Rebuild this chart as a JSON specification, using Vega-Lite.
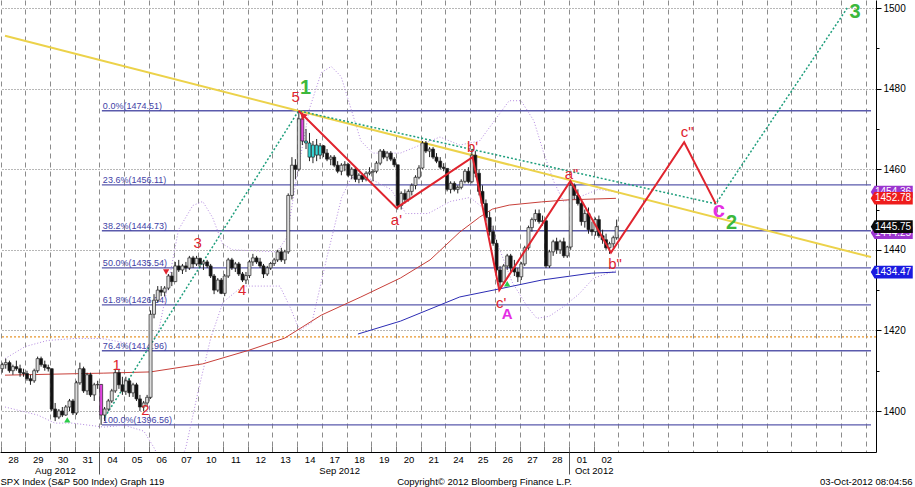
{
  "$schema": "https://vega.github.io/schema/vega-lite/v6.json",
  "width": 876,
  "height": 452,
  "autosize": {"type": "none"},
  "padding": {"left": 0, "top": 0, "right": 39, "bottom": 35},
  "background": "white",
  "view": {"stroke": null},
  "config": {"font": "Liberation Sans", "axis": {"labelFont": "Liberation Sans", "titleFont": "Liberation Sans"}},
  "resolve": {"scale": {"x": "shared", "y": "shared"}, "axis": {"x": "independent"}},
  "datasets": {
    "bars": [
      {"t":-0.43,"o":1410.5,"h":1412,"l":1409.5,"c":1411.5},
      {"t":-0.29,"o":1411.5,"h":1413,"l":1410.5,"c":1412},
      {"t":-0.14,"o":1412,"h":1412.5,"l":1409.5,"c":1410},
      {"t":0,"o":1410,"h":1411.5,"l":1409,"c":1411},
      {"t":0.14,"o":1411,"h":1412.5,"l":1410,"c":1410.5},
      {"t":0.29,"o":1410.5,"h":1411.5,"l":1408.5,"c":1409.5},
      {"t":0.43,"o":1409.5,"h":1410.5,"l":1408.5,"c":1409.3},
      {"t":0.57,"o":1409.3,"h":1410,"l":1407.5,"c":1408},
      {"t":0.71,"o":1408,"h":1409,"l":1406.5,"c":1407.5},
      {"t":0.86,"o":1407.5,"h":1410.5,"l":1407,"c":1410},
      {"t":1,"o":1410,"h":1413.5,"l":1409.5,"c":1413},
      {"t":1.14,"o":1413,"h":1413.5,"l":1411,"c":1411.5},
      {"t":1.29,"o":1411.5,"h":1412.5,"l":1410,"c":1410.8},
      {"t":1.43,"o":1410.8,"h":1411.5,"l":1409.8,"c":1410.5},
      {"t":1.57,"o":1410.5,"h":1410.5,"l":1400,"c":1400.5},
      {"t":1.71,"o":1400.5,"h":1402,"l":1397.5,"c":1398.5},
      {"t":1.86,"o":1398.5,"h":1400.5,"l":1398,"c":1400},
      {"t":2,"o":1400,"h":1401,"l":1398.5,"c":1399},
      {"t":2.14,"o":1399,"h":1401.5,"l":1398.8,"c":1401},
      {"t":2.29,"o":1401,"h":1403,"l":1400,"c":1402.5},
      {"t":2.43,"o":1402.5,"h":1403,"l":1399,"c":1399.5},
      {"t":2.57,"o":1399.5,"h":1407.5,"l":1399,"c":1407},
      {"t":2.71,"o":1407,"h":1412,"l":1406.5,"c":1410.5},
      {"t":2.86,"o":1410.5,"h":1411,"l":1404.5,"c":1405},
      {"t":3,"o":1405,"h":1409.5,"l":1404,"c":1409},
      {"t":3.14,"o":1409,"h":1409.5,"l":1403.5,"c":1404},
      {"t":3.29,"o":1404,"h":1407,"l":1402.5,"c":1406.5},
      {"t":3.43,"o":1406.5,"h":1407.5,"l":1405.5,"c":1406.6},
      {"t":3.57,"o":1406.6,"h":1406.6,"l":1396.56,"c":1399,"f":"m"},
      {"t":3.71,"o":1399,"h":1401,"l":1397.5,"c":1400.5},
      {"t":3.86,"o":1400.5,"h":1403,"l":1400,"c":1402.5},
      {"t":4,"o":1402.5,"h":1405.5,"l":1402,"c":1405},
      {"t":4.14,"o":1405,"h":1410.5,"l":1404.5,"c":1409.5},
      {"t":4.29,"o":1409.5,"h":1410.5,"l":1405.5,"c":1406.5},
      {"t":4.43,"o":1406.5,"h":1408.5,"l":1404,"c":1404.9},
      {"t":4.57,"o":1404.9,"h":1408.5,"l":1404,"c":1407.5},
      {"t":4.71,"o":1407.5,"h":1408,"l":1403.5,"c":1404.5},
      {"t":4.86,"o":1404.5,"h":1407,"l":1403.5,"c":1406.5},
      {"t":5,"o":1406.5,"h":1407,"l":1402.5,"c":1403},
      {"t":5.14,"o":1403,"h":1404,"l":1400,"c":1401},
      {"t":5.29,"o":1401,"h":1402.5,"l":1400,"c":1402},
      {"t":5.43,"o":1402,"h":1404,"l":1401,"c":1403.4},
      {"t":5.57,"o":1403.4,"h":1425,"l":1403,"c":1424},
      {"t":5.71,"o":1424,"h":1429,"l":1423,"c":1427.5},
      {"t":5.86,"o":1427.5,"h":1431,"l":1427,"c":1430},
      {"t":6,"o":1430,"h":1431,"l":1428.5,"c":1429.5},
      {"t":6.14,"o":1429.5,"h":1431,"l":1428.5,"c":1430.5},
      {"t":6.29,"o":1430.5,"h":1434,"l":1430,"c":1433.5},
      {"t":6.43,"o":1433.5,"h":1434.5,"l":1431,"c":1432.1},
      {"t":6.57,"o":1432.1,"h":1437,"l":1432,"c":1436},
      {"t":6.71,"o":1436,"h":1437.5,"l":1434.5,"c":1435},
      {"t":6.86,"o":1435,"h":1436.5,"l":1434,"c":1436},
      {"t":7,"o":1436,"h":1437,"l":1434.5,"c":1435.5},
      {"t":7.14,"o":1435.5,"h":1438.5,"l":1435,"c":1438},
      {"t":7.29,"o":1438,"h":1438.5,"l":1435.5,"c":1436.5},
      {"t":7.43,"o":1436.5,"h":1438.5,"l":1436,"c":1437.9},
      {"t":7.57,"o":1437.9,"h":1438,"l":1435.5,"c":1436.5},
      {"t":7.71,"o":1436.5,"h":1437.5,"l":1435,"c":1437},
      {"t":7.86,"o":1437,"h":1437.5,"l":1435.5,"c":1436},
      {"t":8,"o":1436,"h":1436.5,"l":1433,"c":1433.5},
      {"t":8.14,"o":1433.5,"h":1434,"l":1429,"c":1430},
      {"t":8.29,"o":1430,"h":1433,"l":1429.5,"c":1432.5},
      {"t":8.43,"o":1432.5,"h":1433,"l":1429,"c":1429.2},
      {"t":8.57,"o":1429.2,"h":1434,"l":1428.5,"c":1433.5},
      {"t":8.71,"o":1433.5,"h":1438,"l":1433,"c":1437.5},
      {"t":8.86,"o":1437.5,"h":1438,"l":1435,"c":1435.5},
      {"t":9,"o":1435.5,"h":1437,"l":1434.5,"c":1436.5},
      {"t":9.14,"o":1436.5,"h":1437,"l":1433.5,"c":1434},
      {"t":9.29,"o":1434,"h":1434.5,"l":1432,"c":1432.5},
      {"t":9.43,"o":1432.5,"h":1434.5,"l":1431.5,"c":1433.6},
      {"t":9.57,"o":1433.6,"h":1437.5,"l":1433,"c":1437},
      {"t":9.71,"o":1437,"h":1439,"l":1436,"c":1438},
      {"t":9.86,"o":1438,"h":1438.5,"l":1436.5,"c":1437},
      {"t":10,"o":1437,"h":1438,"l":1435.5,"c":1436},
      {"t":10.14,"o":1436,"h":1436.5,"l":1433,"c":1434},
      {"t":10.29,"o":1434,"h":1436,"l":1433.5,"c":1435.5},
      {"t":10.43,"o":1435.5,"h":1437,"l":1435,"c":1436.6},
      {"t":10.57,"o":1436.6,"h":1438,"l":1436,"c":1437.5},
      {"t":10.71,"o":1437.5,"h":1440,"l":1437,"c":1439.5},
      {"t":10.86,"o":1439.5,"h":1440.5,"l":1437,"c":1437.5},
      {"t":11,"o":1437.5,"h":1440,"l":1436.5,"c":1439.5},
      {"t":11.14,"o":1439.5,"h":1454,"l":1439,"c":1453.5},
      {"t":11.29,"o":1453.5,"h":1463,"l":1452.5,"c":1461},
      {"t":11.43,"o":1461,"h":1462.5,"l":1457.5,"c":1459.99},
      {"t":11.57,"o":1460,"h":1474.51,"l":1459.5,"c":1472.5},
      {"t":11.71,"o":1472.5,"h":1474,"l":1466,"c":1467,"f":"m"},
      {"t":11.86,"o":1467,"h":1470,"l":1465,"c":1466.5,"f":"c"},
      {"t":12,"o":1466.5,"h":1469,"l":1462,"c":1463,"f":"c"},
      {"t":12.14,"o":1463,"h":1467,"l":1461.5,"c":1466,"f":"c"},
      {"t":12.29,"o":1466,"h":1467.5,"l":1462,"c":1463.5,"f":"c"},
      {"t":12.43,"o":1463.5,"h":1466.5,"l":1462.5,"c":1465.8,"f":"c"},
      {"t":12.57,"o":1465.8,"h":1466,"l":1463,"c":1464},
      {"t":12.71,"o":1464,"h":1465,"l":1462,"c":1462.5},
      {"t":12.86,"o":1462.5,"h":1463.5,"l":1461,"c":1463},
      {"t":13,"o":1463,"h":1463.5,"l":1460.5,"c":1461},
      {"t":13.14,"o":1461,"h":1462,"l":1459,"c":1459.5},
      {"t":13.29,"o":1459.5,"h":1461.5,"l":1458.5,"c":1461},
      {"t":13.43,"o":1461,"h":1462,"l":1459.5,"c":1461.2},
      {"t":13.57,"o":1461.2,"h":1461.5,"l":1458,"c":1458.5},
      {"t":13.71,"o":1458.5,"h":1460.5,"l":1457.5,"c":1460},
      {"t":13.86,"o":1460,"h":1460.5,"l":1456.8,"c":1457.5},
      {"t":14,"o":1457.5,"h":1459,"l":1456.5,"c":1458.5},
      {"t":14.14,"o":1458.5,"h":1459,"l":1456.8,"c":1457.5},
      {"t":14.29,"o":1457.5,"h":1459.5,"l":1457,"c":1459},
      {"t":14.43,"o":1459,"h":1460.5,"l":1458.5,"c":1459.3},
      {"t":14.57,"o":1459.3,"h":1460,"l":1457,"c":1459.5},
      {"t":14.71,"o":1459.5,"h":1462,"l":1459,"c":1461.5},
      {"t":14.86,"o":1461.5,"h":1465,"l":1461,"c":1464.5},
      {"t":15,"o":1464.5,"h":1465,"l":1462.5,"c":1463},
      {"t":15.14,"o":1463,"h":1464.5,"l":1462,"c":1464},
      {"t":15.29,"o":1464,"h":1464.5,"l":1462,"c":1462.5},
      {"t":15.43,"o":1462.5,"h":1463,"l":1460.5,"c":1461.1},
      {"t":15.57,"o":1461.1,"h":1461.1,"l":1450,"c":1451},
      {"t":15.71,"o":1451,"h":1454.5,"l":1450,"c":1454},
      {"t":15.86,"o":1454,"h":1455,"l":1451.5,"c":1452.5},
      {"t":16,"o":1452.5,"h":1455,"l":1452,"c":1454.5},
      {"t":16.14,"o":1454.5,"h":1456.5,"l":1453.5,"c":1456},
      {"t":16.29,"o":1456,"h":1458.5,"l":1455,"c":1458},
      {"t":16.43,"o":1458,"h":1461,"l":1457.5,"c":1460.3},
      {"t":16.57,"o":1460.3,"h":1467,"l":1460,"c":1466.5},
      {"t":16.71,"o":1466.5,"h":1467,"l":1464,"c":1464.5},
      {"t":16.86,"o":1464.5,"h":1465.5,"l":1463,"c":1465},
      {"t":17,"o":1465,"h":1465.5,"l":1462.5,"c":1463},
      {"t":17.14,"o":1463,"h":1464,"l":1461.5,"c":1462},
      {"t":17.29,"o":1462,"h":1463,"l":1460,"c":1460.5},
      {"t":17.43,"o":1460.5,"h":1461.5,"l":1459.5,"c":1460.2},
      {"t":17.57,"o":1460.2,"h":1460.2,"l":1454.5,"c":1455},
      {"t":17.71,"o":1455,"h":1457,"l":1454,"c":1456.5},
      {"t":17.86,"o":1456.5,"h":1457,"l":1454.5,"c":1455},
      {"t":18,"o":1455,"h":1456,"l":1454,"c":1455.5},
      {"t":18.14,"o":1455.5,"h":1457.5,"l":1455,"c":1457},
      {"t":18.29,"o":1457,"h":1460,"l":1456.5,"c":1459.5},
      {"t":18.43,"o":1459.5,"h":1460.5,"l":1456.5,"c":1456.9},
      {"t":18.57,"o":1456.9,"h":1465,"l":1456.5,"c":1463.5},
      {"t":18.71,"o":1463.5,"h":1464.5,"l":1458,"c":1459},
      {"t":18.86,"o":1459,"h":1460,"l":1453.5,"c":1454.5},
      {"t":19,"o":1454.5,"h":1456,"l":1450.5,"c":1451.5},
      {"t":19.14,"o":1451.5,"h":1452.5,"l":1447,"c":1448},
      {"t":19.29,"o":1448,"h":1449.5,"l":1443.5,"c":1444.5},
      {"t":19.43,"o":1444.5,"h":1446,"l":1441,"c":1441.6},
      {"t":19.57,"o":1441.6,"h":1442.5,"l":1434,"c":1435},
      {"t":19.71,"o":1435,"h":1436,"l":1430.5,"c":1432},
      {"t":19.86,"o":1432,"h":1436.5,"l":1431.5,"c":1436},
      {"t":20,"o":1436,"h":1439,"l":1435,"c":1438.5},
      {"t":20.14,"o":1438.5,"h":1439,"l":1434.5,"c":1435.5},
      {"t":20.29,"o":1435.5,"h":1437.5,"l":1433.5,"c":1434.5},
      {"t":20.43,"o":1434.5,"h":1435.5,"l":1432,"c":1433.3},
      {"t":20.57,"o":1433.3,"h":1437,"l":1432.5,"c":1436.5},
      {"t":20.71,"o":1436.5,"h":1441,"l":1436,"c":1440.5},
      {"t":20.86,"o":1440.5,"h":1446,"l":1440,"c":1445.5},
      {"t":21,"o":1445.5,"h":1448,"l":1444.5,"c":1447.5},
      {"t":21.14,"o":1447.5,"h":1450,"l":1447,"c":1449},
      {"t":21.29,"o":1449,"h":1450,"l":1446.5,"c":1447},
      {"t":21.43,"o":1447,"h":1448.5,"l":1446,"c":1447.2},
      {"t":21.57,"o":1447.2,"h":1447.5,"l":1435.5,"c":1436},
      {"t":21.71,"o":1436,"h":1440,"l":1435.5,"c":1439.5},
      {"t":21.86,"o":1439.5,"h":1442.5,"l":1438.5,"c":1442},
      {"t":22,"o":1442,"h":1443,"l":1439,"c":1440},
      {"t":22.14,"o":1440,"h":1442.5,"l":1439,"c":1442},
      {"t":22.29,"o":1442,"h":1443,"l":1438,"c":1438.5},
      {"t":22.43,"o":1438.5,"h":1441,"l":1438,"c":1440.7},
      {"t":22.57,"o":1440.7,"h":1457,"l":1440,"c":1456},
      {"t":22.71,"o":1456,"h":1456.5,"l":1452.5,"c":1453.5},
      {"t":22.86,"o":1453.5,"h":1455,"l":1451,"c":1451.5},
      {"t":23,"o":1451.5,"h":1452.5,"l":1446,"c":1447},
      {"t":23.14,"o":1447,"h":1450,"l":1445.5,"c":1449},
      {"t":23.29,"o":1449,"h":1450.5,"l":1444,"c":1445},
      {"t":23.43,"o":1445,"h":1447,"l":1443.5,"c":1444.5},
      {"t":23.57,"o":1444.5,"h":1448,"l":1443.5,"c":1447.5},
      {"t":23.71,"o":1447.5,"h":1448.5,"l":1443,"c":1443.5},
      {"t":23.86,"o":1443.5,"h":1445,"l":1441.5,"c":1442.5},
      {"t":24,"o":1442.5,"h":1444,"l":1440,"c":1440.5},
      {"t":24.14,"o":1440.5,"h":1442,"l":1439,"c":1441.5},
      {"t":24.29,"o":1441.5,"h":1443.5,"l":1440.5,"c":1443},
      {"t":24.43,"o":1443,"h":1447.5,"l":1442.5,"c":1445.75}
    ],
    "fib": [
      {"lab":"0.0%(1474.51)","v":1474.51},
      {"lab":"23.6%(1456.11)","v":1456.11},
      {"lab":"38.2%(1444.73)","v":1444.73},
      {"lab":"50.0%(1435.54)","v":1435.54},
      {"lab":"61.8%(1426.34)","v":1426.34},
      {"lab":"76.4%(1414.96)","v":1414.96},
      {"lab":"100.0%(1396.56)","v":1396.56}
    ],
    "zigzag": [
      {"t":11.56,"v":1474.51},
      {"t":15.52,"v":1450.4},
      {"t":18.6,"v":1463.0},
      {"t":19.68,"v":1430.0},
      {"t":22.56,"v":1457.1},
      {"t":24.2,"v":1439.3},
      {"t":27.16,"v":1466.7},
      {"t":28.44,"v":1451.4}
    ],
    "teal": [
      {"t":3.72,"v":1398.5},
      {"t":11.56,"v":1474.51},
      {"t":28.44,"v":1451.4},
      {"t":33.76,"v":1500.0}
    ],
    "yellow": [
      {"t":-0.32,"v":1493.1},
      {"t":34.72,"v":1438.2}
    ],
    "ma100": [
      {"t":-0.32,"v":1408.9},{"t":3.68,"v":1409.4},{"t":5.56,"v":1409.7},{"t":7.68,"v":1411.7},
      {"t":9.56,"v":1415.1},{"t":11.0,"v":1418.1},{"t":12.48,"v":1423.8},{"t":14.08,"v":1428.3},
      {"t":15.68,"v":1433.0},{"t":16.88,"v":1437.5},{"t":18.08,"v":1444.4},{"t":18.88,"v":1448.1},
      {"t":19.4,"v":1450.1},{"t":20.08,"v":1451.1},{"t":21.4,"v":1451.9},{"t":22.48,"v":1452.4},
      {"t":24.4,"v":1452.78}
    ],
    "ma200": [
      {"t":13.96,"v":1419.1},{"t":15.68,"v":1422.3},{"t":17.0,"v":1425.6},{"t":18.08,"v":1428.3},
      {"t":19.68,"v":1430.3},{"t":21.4,"v":1432.5},{"t":23.4,"v":1434.2},{"t":24.4,"v":1434.47}
    ],
    "bands": [
      {"b":"u","t":-0.32,"v":1413},{"b":"u","t":0.5,"v":1416},{"b":"u","t":1.4,"v":1417.5},{"b":"u","t":2.5,"v":1418},
      {"b":"u","t":3.6,"v":1418},{"b":"u","t":4.9,"v":1416.5},{"b":"u","t":5.5,"v":1415},{"b":"u","t":5.9,"v":1420},
      {"b":"u","t":6.3,"v":1432},{"b":"u","t":6.7,"v":1445},{"b":"u","t":7.28,"v":1451},{"b":"u","t":7.68,"v":1452},
      {"b":"u","t":8.08,"v":1448},{"b":"u","t":8.48,"v":1441.5},{"b":"u","t":8.88,"v":1440},{"b":"u","t":10.68,"v":1439.5},
      {"b":"u","t":11.08,"v":1443},{"b":"u","t":11.48,"v":1458},{"b":"u","t":12.0,"v":1475},{"b":"u","t":12.48,"v":1484},
      {"b":"u","t":12.88,"v":1485.5},{"b":"u","t":13.28,"v":1483},{"b":"u","t":13.68,"v":1475},{"b":"u","t":14.08,"v":1467},
      {"b":"u","t":14.56,"v":1464},{"b":"u","t":15.68,"v":1464},{"b":"u","t":16.48,"v":1466},{"b":"u","t":17.28,"v":1468},
      {"b":"u","t":18.08,"v":1466},{"b":"u","t":18.88,"v":1467},{"b":"u","t":19.48,"v":1472},{"b":"u","t":20.08,"v":1477},
      {"b":"u","t":20.56,"v":1477},{"b":"u","t":21.08,"v":1472},{"b":"u","t":21.48,"v":1464},{"b":"u","t":21.88,"v":1457},
      {"b":"u","t":22.28,"v":1452},{"b":"u","t":22.88,"v":1453},{"b":"u","t":23.68,"v":1455},{"b":"u","t":24.4,"v":1454.36},
      {"b":"l","t":-0.32,"v":1401},{"b":"l","t":1.0,"v":1399},{"b":"l","t":1.7,"v":1397},{"b":"l","t":2.4,"v":1397},
      {"b":"l","t":3.7,"v":1396},{"b":"l","t":4.5,"v":1396.5},{"b":"l","t":5.3,"v":1395},{"b":"l","t":5.7,"v":1391},
      {"b":"l","t":6.1,"v":1386},{"b":"l","t":6.7,"v":1386},{"b":"l","t":7.0,"v":1391},{"b":"l","t":7.5,"v":1405},
      {"b":"l","t":8.0,"v":1418},{"b":"l","t":8.5,"v":1427},{"b":"l","t":9.3,"v":1431},{"b":"l","t":10.8,"v":1431},
      {"b":"l","t":11.2,"v":1426},{"b":"l","t":11.6,"v":1420},{"b":"l","t":12.1,"v":1422},{"b":"l","t":12.7,"v":1438},
      {"b":"l","t":13.3,"v":1453},{"b":"l","t":13.7,"v":1458},{"b":"l","t":14.5,"v":1457.5},{"b":"l","t":15.3,"v":1455},
      {"b":"l","t":15.9,"v":1449},{"b":"l","t":16.8,"v":1449},{"b":"l","t":17.7,"v":1452},{"b":"l","t":18.5,"v":1453},
      {"b":"l","t":19.1,"v":1450},{"b":"l","t":19.7,"v":1440},{"b":"l","t":20.2,"v":1432},{"b":"l","t":20.8,"v":1426},
      {"b":"l","t":21.2,"v":1423},{"b":"l","t":21.7,"v":1423.5},{"b":"l","t":22.3,"v":1426},{"b":"l","t":22.9,"v":1429},
      {"b":"l","t":23.5,"v":1433},{"b":"l","t":24.4,"v":1434.8}
    ],
    "labels": [
      {"t":11.44,"v":1477.9,"txt":"5","g":"r"},
      {"t":7.48,"v":1441.7,"txt":"3","g":"r"},
      {"t":9.28,"v":1430.0,"txt":"4","g":"r"},
      {"t":4.2,"v":1411.4,"txt":"1","g":"r"},
      {"t":5.36,"v":1400.2,"txt":"2","g":"r"},
      {"t":15.52,"v":1447.4,"txt":"a'","g":"r"},
      {"t":18.6,"v":1465.5,"txt":"b'","g":"r"},
      {"t":19.76,"v":1426.8,"txt":"c'","g":"r"},
      {"t":22.6,"v":1458.8,"txt":"a\"","g":"r"},
      {"t":24.36,"v":1436.5,"txt":"b\"","g":"r"},
      {"t":27.28,"v":1469.2,"txt":"c\"","g":"r"},
      {"t":11.84,"v":1480.1,"txt":"1","g":"g"},
      {"t":29.08,"v":1446.6,"txt":"2","g":"g"},
      {"t":34.08,"v":1499.0,"txt":"3","g":"g"},
      {"t":20.0,"v":1424.0,"txt":"A","g":"m"},
      {"t":28.56,"v":1448.2,"txt":"c","g":"mc"}
    ],
    "upMarks": [
      {"t":2.2,"v":1397.8},
      {"t":20.0,"v":1431.6}
    ],
    "downMarks": [
      {"t":6.2,"v":1434.5}
    ],
    "arrow": [
      {"t":11.72,"v":1473.4}
    ],
    "tags": [
      {"v":1454.36,"lab":"1454.36","s":"BB upper","grp":"bb"},
      {"v":1444.25,"lab":"1444.25","s":"BB mid","grp":"bb"},
      {"v":1452.78,"lab":"1452.78","s":"MA 100","grp":"main"},
      {"v":1445.75,"lab":"1445.75","s":"Last","grp":"main"},
      {"v":1434.47,"lab":"1434.47","s":"MA 200","grp":"main"}
    ],
    "orange": [{"v":1418.4}]
  },
  "layer": [
    {
      "data": {"name": "orange"},
      "mark": {"type": "rule", "color": "#e8962e", "strokeDash": [2, 2], "strokeWidth": 1.2},
      "encoding": {
        "y": {"field": "v", "type": "quantitative"}
      }
    },
    {
      "data": {"name": "fib"},
      "mark": {"type": "rule", "color": "#5a5aac", "strokeWidth": 1.3},
      "encoding": {
        "x": {"datum": 3.6, "type": "quantitative", "axis": null},
        "x2": {"datum": 34.72},
        "y": {"field": "v", "type": "quantitative"}
      }
    },
    {
      "data": {"name": "fib"},
      "mark": {"type": "text", "align": "left", "baseline": "alphabetic", "dy": -2, "fontSize": 9, "color": "#3f3fa6", "font": "Liberation Sans"},
      "encoding": {
        "x": {"datum": 3.64, "type": "quantitative", "axis": null},
        "y": {"field": "v", "type": "quantitative"},
        "text": {"field": "lab"}
      }
    },
    {
      "data": {"name": "bands"},
      "mark": {"type": "line", "color": "#b48ae0", "strokeDash": [1, 2], "strokeWidth": 1, "clip": true},
      "encoding": {
        "x": {"field": "t", "type": "quantitative", "axis": null},
        "y": {"field": "v", "type": "quantitative"},
        "detail": {"field": "b"}
      }
    },
    {
      "data": {"name": "ma100"},
      "mark": {"type": "line", "color": "#c8403a", "strokeWidth": 1},
      "encoding": {
        "x": {"field": "t", "type": "quantitative", "axis": null},
        "y": {"field": "v", "type": "quantitative"}
      }
    },
    {
      "data": {"name": "ma200"},
      "mark": {"type": "line", "color": "#2c2cb4", "strokeWidth": 1},
      "encoding": {
        "x": {"field": "t", "type": "quantitative", "axis": null},
        "y": {"field": "v", "type": "quantitative"}
      }
    },
    {
      "data": {"name": "yellow"},
      "mark": {"type": "line", "color": "#ecd24a", "strokeWidth": 2},
      "encoding": {
        "x": {"field": "t", "type": "quantitative",
          "axis": {"orient": "bottom", "values": [0], "labels": false, "ticks": false, "domain": false, "grid": false,
            "title": "03-Oct-2012 08:04:56", "titleX": 912, "titleY": 32, "titleAlign": "right", "titleAnchor": "end",
            "titleBaseline": "alphabetic", "titleFontSize": 9.5, "titleFontWeight": "normal", "titleColor": "#000"}},
        "y": {"field": "v", "type": "quantitative"}
      }
    },
    {
      "data": {"name": "teal"},
      "mark": {"type": "line", "color": "#1e9e7c", "strokeDash": [2, 2], "strokeWidth": 1.5},
      "encoding": {
        "x": {"field": "t", "type": "quantitative", "axis": null},
        "y": {"field": "v", "type": "quantitative"}
      }
    },
    {
      "data": {"name": "bars"},
      "mark": {"type": "rule", "color": "#222", "strokeWidth": 1},
      "encoding": {
        "x": {"field": "t", "type": "quantitative",
          "scale": {"domain": [-0.32, 34.72], "nice": false, "zero": false},
          "axis": {
            "orient": "bottom",
            "values": [-0.5,0.5,1.5,2.5,3.5,4.5,5.5,6.5,7.5,8.5,9.5,10.5,11.5,12.5,13.5,14.5,15.5,16.5,17.5,18.5,19.5,20.5,21.5,22.5,23.5,24.5,25.5,26.5,27.5,28.5,29.5,30.5,31.5,32.5,33.5,34.5],
            "labelExpr": "datum.value < 24 ? ['28','29','30','31','04','05','06','07','10','11','12','13','14','17','18','19','20','21','24','25','26','27','28','01','02'][round(datum.value + 0.5)] : ''",
            "labelOffset": 12.5,
            "labelPadding": 8,
            "labelFontSize": 9.5,
            "labelColor": "#000",
            "labelFlush": false,
            "labelOverlap": false,
            "labelBound": false,
            "tickSize": -6,
            "tickColor": "#777",
            "tickOpacity": {"condition": {"test": "datum.value < 24", "value": 1}, "value": 0},
            "grid": true,
            "gridColor": "#8c8c8c",
            "gridDash": [5, 4],
            "gridWidth": 1,
            "domain": true,
            "domainColor": "#000",
            "title": "SPX Index (S&P 500 Index) Graph 119",
            "titleX": 0, "titleY": 32, "titleAlign": "left", "titleAnchor": "start",
            "titleBaseline": "alphabetic", "titleFontSize": 9.5, "titleFontWeight": "normal", "titleColor": "#000"
          }},
        "y": {"field": "l", "type": "quantitative",
          "scale": {"domain": [1389.83, 1501.99], "nice": false, "zero": false},
          "axis": {
            "orient": "right",
            "values": [1400,1410,1420,1430,1440,1450,1460,1470,1480,1490,1500],
            "labelExpr": "datum.value % 20 == 0 ? '' + datum.value : ''",
            "labelFontSize": 10,
            "labelColor": "#000",
            "labelPadding": 2,
            "labelFlush": false,
            "labelOverlap": false,
            "tickColor": "#000",
            "tickSize": {"condition": {"test": "datum.value % 20 == 0", "value": 5}, "value": 3},
            "domain": true,
            "domainColor": "#000",
            "grid": true,
            "gridColor": {"condition": {"test": "datum.value % 20 == 0", "value": "#6e6e6e"}, "value": "rgba(0,0,0,0)"},
            "gridDash": [1, 2],
            "gridWidth": 1,
            "title": null
          }},
        "y2": {"field": "h"}
      }
    },
    {
      "data": {"name": "bars"},
      "mark": {"type": "bar", "size": 3, "stroke": "#222", "strokeWidth": 0.7},
      "encoding": {
        "x": {"field": "t", "type": "quantitative", "axis": null},
        "y": {"field": "o", "type": "quantitative"},
        "y2": {"field": "c"},
        "fill": {
          "condition": [
            {"test": "datum.f == 'm'", "value": "#e046e0"},
            {"test": "datum.f == 'c'", "value": "#36d8d8"},
            {"test": "datum.c >= datum.o", "value": "#dcdcdc"}
          ],
          "value": "#111111"
        }
      }
    },
    {
      "data": {"name": "zigzag"},
      "mark": {"type": "line", "color": "#e0242e", "strokeWidth": 2},
      "encoding": {
        "x": {"field": "t", "type": "quantitative",
          "axis": {
            "orient": "bottom",
            "values": [1.7, 3.5, 13.2, 22.5, 23.5],
            "labelExpr": "datum.value == 1.7 ? 'Aug 2012' : datum.value == 13.2 ? 'Sep 2012' : datum.value == 23.5 ? 'Oct 2012' : ''",
            "labelFontSize": 9.5,
            "labelColor": "#000",
            "labelPadding": -9,
            "labelFlush": false,
            "labelOverlap": false,
            "labelBound": false,
            "tickSize": 22,
            "tickColor": "#555",
            "tickOpacity": {"condition": {"test": "datum.value == 3.5 || datum.value == 22.5", "value": 1}, "value": 0},
            "domain": false,
            "grid": false,
            "title": "Copyright© 2012 Bloomberg Finance L.P.",
            "titleX": 484, "titleY": 32, "titleAlign": "center", "titleAnchor": "middle",
            "titleBaseline": "alphabetic", "titleFontSize": 9.5, "titleFontWeight": "normal", "titleColor": "#000"
          }},
        "y": {"field": "v", "type": "quantitative"}
      }
    },
    {
      "data": {"name": "arrow"},
      "mark": {"type": "point", "shape": "triangle-up", "filled": true, "color": "#e0242e", "size": 60, "angle": -45, "opacity": 1},
      "encoding": {
        "x": {"field": "t", "type": "quantitative", "axis": null},
        "y": {"field": "v", "type": "quantitative"}
      }
    },
    {
      "data": {"name": "upMarks"},
      "mark": {"type": "point", "shape": "triangle-up", "filled": true, "color": "#2ccc4a", "size": 40, "opacity": 1},
      "encoding": {
        "x": {"field": "t", "type": "quantitative", "axis": null},
        "y": {"field": "v", "type": "quantitative"}
      }
    },
    {
      "data": {"name": "downMarks"},
      "mark": {"type": "point", "shape": "triangle-down", "filled": true, "color": "#e0242e", "size": 40, "opacity": 1},
      "encoding": {
        "x": {"field": "t", "type": "quantitative", "axis": null},
        "y": {"field": "v", "type": "quantitative"}
      }
    },
    {
      "data": {"name": "labels"},
      "transform": [{"filter": "datum.g == 'r'"}],
      "mark": {"type": "text", "fontSize": 15, "color": "#e0242e", "align": "center", "baseline": "middle", "font": "Liberation Sans"},
      "encoding": {
        "x": {"field": "t", "type": "quantitative", "axis": null},
        "y": {"field": "v", "type": "quantitative"},
        "text": {"field": "txt"}
      }
    },
    {
      "data": {"name": "labels"},
      "transform": [{"filter": "datum.g == 'g'"}],
      "mark": {"type": "text", "fontSize": 20, "fontWeight": "bold", "color": "#3cb83c", "align": "center", "baseline": "middle", "font": "Liberation Sans"},
      "encoding": {
        "x": {"field": "t", "type": "quantitative", "axis": null},
        "y": {"field": "v", "type": "quantitative"},
        "text": {"field": "txt"}
      }
    },
    {
      "data": {"name": "labels"},
      "transform": [{"filter": "datum.g == 'm'"}],
      "mark": {"type": "text", "fontSize": 15, "fontWeight": "bold", "color": "#e42ee4", "align": "center", "baseline": "middle", "font": "Liberation Sans"},
      "encoding": {
        "x": {"field": "t", "type": "quantitative", "axis": null},
        "y": {"field": "v", "type": "quantitative"},
        "text": {"field": "txt"}
      }
    },
    {
      "data": {"name": "labels"},
      "transform": [{"filter": "datum.g == 'mc'"}],
      "mark": {"type": "text", "fontSize": 22, "fontWeight": "bold", "color": "#e42ee4", "align": "center", "baseline": "alphabetic", "font": "Liberation Sans"},
      "encoding": {
        "x": {"field": "t", "type": "quantitative", "axis": null},
        "y": {"field": "v", "type": "quantitative"},
        "text": {"field": "txt"}
      }
    },
    {
      "data": {"name": "tags"},
      "transform": [{"filter": "datum.grp == 'bb'"}],
      "mark": {"type": "point", "shape": "M -1 0 L -0.82 -0.3 L 1 -0.3 L 1 0.3 L -0.82 0.3 Z", "filled": true, "size": 1764, "opacity": 1, "strokeWidth": 0},
      "encoding": {
        "x": {"datum": 35.56, "type": "quantitative", "axis": null},
        "y": {"field": "v", "type": "quantitative"},
        "fill": {"field": "s", "type": "nominal", "legend": null,
          "scale": {"domain": ["BB upper", "BB mid", "MA 100", "Last", "MA 200"], "range": ["#9b35cf", "#9b35cf", "#ee1c1c", "#0a0a0a", "#1a1ae0"]}}
      }
    },
    {
      "data": {"name": "tags"},
      "transform": [{"filter": "datum.grp == 'bb'"}],
      "mark": {"type": "text", "align": "left", "baseline": "middle", "fontSize": 10, "color": "#ffffff", "font": "Liberation Sans"},
      "encoding": {
        "x": {"datum": 34.88, "type": "quantitative", "axis": null},
        "y": {"field": "v", "type": "quantitative"},
        "text": {"field": "lab"}
      }
    },
    {
      "data": {"name": "tags"},
      "transform": [{"filter": "datum.grp == 'main'"}],
      "mark": {"type": "point", "shape": "M -1 0 L -0.82 -0.3 L 1 -0.3 L 1 0.3 L -0.82 0.3 Z", "filled": true, "size": 1764, "opacity": 1, "strokeWidth": 0},
      "encoding": {
        "x": {"datum": 35.56, "type": "quantitative", "axis": null},
        "y": {"field": "v", "type": "quantitative"},
        "fill": {"field": "s", "type": "nominal", "legend": null,
          "scale": {"domain": ["BB upper", "BB mid", "MA 100", "Last", "MA 200"], "range": ["#9b35cf", "#9b35cf", "#ee1c1c", "#0a0a0a", "#1a1ae0"]}}
      }
    },
    {
      "data": {"name": "tags"},
      "transform": [{"filter": "datum.grp == 'main'"}],
      "mark": {"type": "text", "align": "left", "baseline": "middle", "fontSize": 10, "color": "#ffffff", "font": "Liberation Sans"},
      "encoding": {
        "x": {"datum": 34.88, "type": "quantitative", "axis": null},
        "y": {"field": "v", "type": "quantitative"},
        "text": {"field": "lab"}
      }
    }
  ]
}
